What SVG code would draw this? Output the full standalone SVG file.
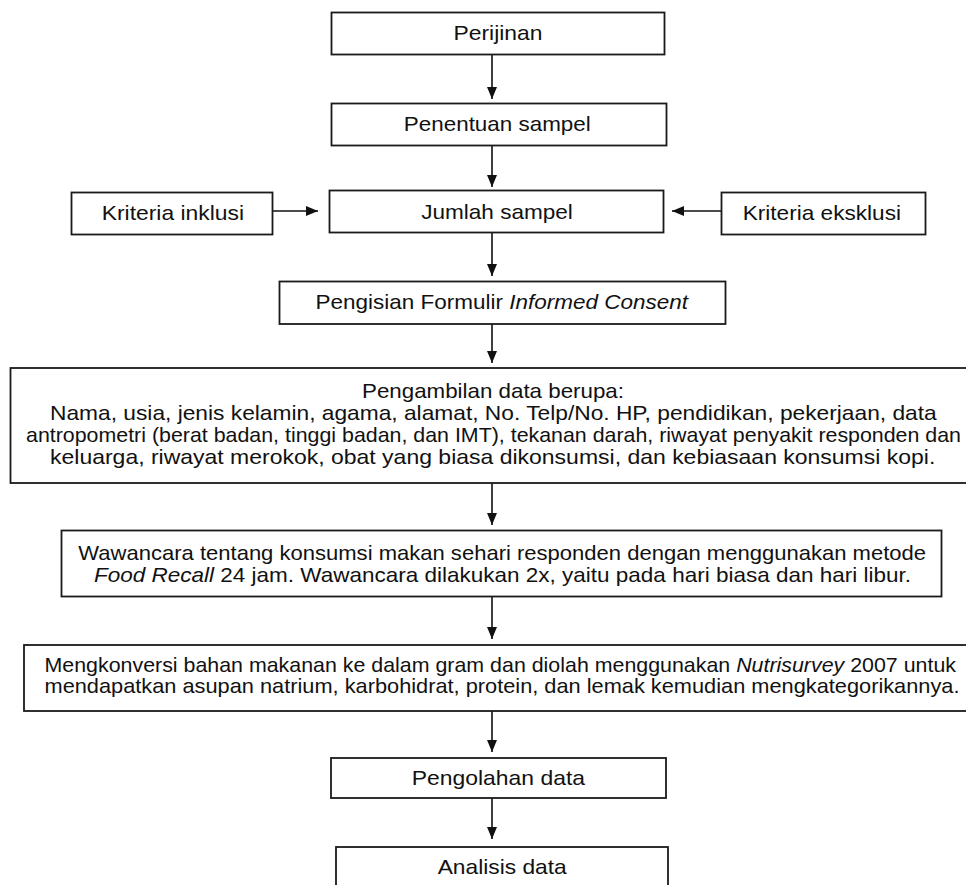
<svg xmlns="http://www.w3.org/2000/svg" width="966" height="885" viewBox="0 0 966 885">
<style>
  .box { fill: #ffffff; stroke: #1a1a1a; stroke-width: 1.8; }
  .t { font-family: "Liberation Sans", Arial, sans-serif; font-size: 21px; fill: #111111; }
  .it { font-style: italic; }
  .conn { stroke: #111111; stroke-width: 1.6; fill: none; }
</style>
<defs>
  <marker id="ah" viewBox="0 0 12 10" refX="12" refY="5" markerWidth="12" markerHeight="10" markerUnits="userSpaceOnUse" orient="auto">
    <path d="M0,0 L12,5 L0,10 Z" fill="#111111"/>
  </marker>
</defs>
<rect width="966" height="885" fill="#ffffff"/>

<g id="connectors">
  <line class="conn" x1="492" y1="55" x2="492" y2="99" marker-end="url(#ah)"/>
  <line class="conn" x1="492" y1="146" x2="492" y2="187" marker-end="url(#ah)"/>
  <line class="conn" x1="272" y1="211" x2="318" y2="211" marker-end="url(#ah)"/>
  <line class="conn" x1="721" y1="211" x2="672" y2="211" marker-end="url(#ah)"/>
  <line class="conn" x1="492" y1="233" x2="492" y2="276" marker-end="url(#ah)"/>
  <line class="conn" x1="492" y1="324" x2="492" y2="363" marker-end="url(#ah)"/>
  <line class="conn" x1="492" y1="483" x2="492" y2="525" marker-end="url(#ah)"/>
  <line class="conn" x1="492" y1="596" x2="492" y2="639" marker-end="url(#ah)"/>
  <line class="conn" x1="492" y1="711" x2="492" y2="752" marker-end="url(#ah)"/>
  <line class="conn" x1="492" y1="798" x2="492" y2="839" marker-end="url(#ah)"/>
</g>

<g id="perijinan">
  <rect class="box" x="331.5" y="12.5" width="333" height="42"/>
  <text class="t" x="453.5" y="40" textLength="89" lengthAdjust="spacingAndGlyphs">Perijinan</text>
</g>
<g id="penentuan-sampel">
  <rect class="box" x="331.5" y="103.5" width="335" height="42"/>
  <text class="t" x="403.8" y="131" textLength="187" lengthAdjust="spacingAndGlyphs">Penentuan sampel</text>
</g>
<g id="jumlah-sampel">
  <rect class="box" x="329.5" y="190.5" width="334" height="42"/>
  <text class="t" x="421.2" y="218.5" textLength="151.7" lengthAdjust="spacingAndGlyphs">Jumlah sampel</text>
</g>
<g id="kriteria-inklusi">
  <rect class="box" x="71.5" y="192.5" width="201" height="42"/>
  <text class="t" x="101.7" y="220" textLength="142.3" lengthAdjust="spacingAndGlyphs">Kriteria inklusi</text>
</g>
<g id="kriteria-eksklusi">
  <rect class="box" x="721.5" y="192.5" width="204" height="42"/>
  <text class="t" x="742.7" y="220" textLength="158.3" lengthAdjust="spacingAndGlyphs">Kriteria eksklusi</text>
</g>
<g id="informed-consent">
  <rect class="box" x="279.5" y="281.5" width="446" height="42.5"/>
  <text class="t" x="315.6" y="309" textLength="372.4" lengthAdjust="spacingAndGlyphs">Pengisian Formulir <tspan class="it">Informed Consent</tspan></text>
</g>
<g id="pengambilan-data">
  <rect class="box" x="10.5" y="368" width="970" height="115"/>
  <text class="t" x="362" y="398" textLength="262" lengthAdjust="spacingAndGlyphs">Pengambilan data berupa:</text>
  <text class="t" x="50" y="420" textLength="886.7" lengthAdjust="spacingAndGlyphs">Nama, usia, jenis kelamin, agama, alamat, No. Telp/No. HP, pendidikan, pekerjaan, data</text>
  <text class="t" x="26" y="442" textLength="935" lengthAdjust="spacingAndGlyphs">antropometri (berat badan, tinggi badan, dan IMT), tekanan darah, riwayat penyakit responden dan</text>
  <text class="t" x="50" y="464" textLength="885.3" lengthAdjust="spacingAndGlyphs">keluarga, riwayat merokok, obat yang biasa dikonsumsi, dan kebiasaan konsumsi kopi.</text>
</g>
<g id="wawancara">
  <rect class="box" x="61.5" y="530.5" width="880" height="66"/>
  <text class="t" x="78.3" y="559.5" textLength="847.7" lengthAdjust="spacingAndGlyphs">Wawancara tentang konsumsi makan sehari responden dengan menggunakan metode</text>
  <text class="t" x="94" y="581.5" textLength="817" lengthAdjust="spacingAndGlyphs"><tspan class="it">Food Recall</tspan> 24 jam. Wawancara dilakukan 2x, yaitu pada hari biasa dan hari libur.</text>
</g>
<g id="mengkonversi">
  <rect class="box" x="24" y="645" width="960" height="66"/>
  <text class="t" x="44.5" y="671.5" textLength="911.5" lengthAdjust="spacingAndGlyphs">Mengkonversi bahan makanan ke dalam gram dan diolah menggunakan <tspan class="it">Nutrisurvey</tspan> 2007 untuk</text>
  <text class="t" x="44.5" y="693" textLength="915" lengthAdjust="spacingAndGlyphs">mendapatkan asupan natrium, karbohidrat, protein, dan lemak kemudian mengkategorikannya.</text>
</g>
<g id="pengolahan-data">
  <rect class="box" x="331" y="758" width="335" height="40"/>
  <text class="t" x="411.7" y="785" textLength="173.3" lengthAdjust="spacingAndGlyphs">Pengolahan data</text>
</g>
<g id="analisis-data">
  <rect class="box" x="336" y="847" width="332" height="50"/>
  <text class="t" x="437.7" y="873.5" textLength="129" lengthAdjust="spacingAndGlyphs">Analisis data</text>
</g>
</svg>
